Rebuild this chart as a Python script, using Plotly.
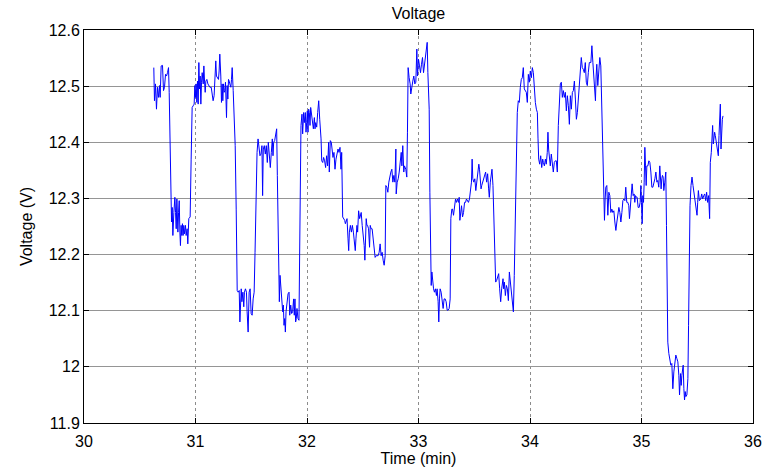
import plotly.graph_objects as go

# Battery voltage log, time in minutes, voltage in volts (six consecutive stretches)
t_part1 = [
    30.626, 30.632, 30.641, 30.650, 30.659, 30.668, 30.677, 30.683, 30.692, 30.704,
    30.713, 30.722, 30.731, 30.740, 30.749, 30.758, 30.764, 30.776, 30.785, 30.791,
    30.797, 30.806, 30.815, 30.821, 30.827, 30.833, 30.842, 30.848, 30.854, 30.860,
    30.865, 30.871, 30.877, 30.883, 30.889, 30.895, 30.901, 30.910, 30.916, 30.925,
    30.931, 30.940, 30.952, 30.961, 30.970, 30.979, 30.988, 30.994, 31.000, 31.006,
    31.012, 31.018, 31.024, 31.030, 31.036, 31.042, 31.048, 31.054, 31.060, 31.069,
    31.075, 31.081, 31.087, 31.093, 31.102, 31.111, 31.120, 31.129, 31.141, 31.149,
    31.158, 31.167, 31.176, 31.182, 31.188, 31.197, 31.206, 31.212, 31.218, 31.227,
    31.233, 31.239, 31.245, 31.251, 31.257, 31.263, 31.269, 31.278, 31.284, 31.290,
    31.296, 31.302, 31.308, 31.317, 31.323, 31.329, 31.338, 31.347, 31.356, 31.365,
    31.374, 31.383, 31.392, 31.398, 31.404, 31.410, 31.416, 31.425, 31.433, 31.439,
    31.448, 31.457, 31.463, 31.472, 31.481, 31.490, 31.499, 31.508, 31.517, 31.526,
]
v_part1 = [
    12.533, 12.474, 12.504, 12.459, 12.498, 12.480, 12.501, 12.480, 12.536, 12.537,
    12.492, 12.498, 12.521, 12.518, 12.524, 12.533, 12.489, 12.341, 12.258, 12.284,
    12.234, 12.275, 12.302, 12.275, 12.246, 12.299, 12.240, 12.275, 12.296, 12.240,
    12.216, 12.252, 12.234, 12.255, 12.234, 12.252, 12.237, 12.252, 12.234, 12.246,
    12.219, 12.264, 12.267, 12.370, 12.462, 12.465, 12.468, 12.501, 12.480, 12.504,
    12.471, 12.509, 12.468, 12.542, 12.495, 12.518, 12.468, 12.507, 12.524, 12.504,
    12.536, 12.509, 12.489, 12.509, 12.512, 12.504, 12.501, 12.498, 12.498, 12.489,
    12.474, 12.483, 12.524, 12.545, 12.518, 12.515, 12.512, 12.527, 12.557, 12.518,
    12.471, 12.504, 12.474, 12.504, 12.489, 12.492, 12.507, 12.444, 12.501, 12.477,
    12.512, 12.509, 12.504, 12.498, 12.512, 12.533, 12.492, 12.453, 12.394, 12.281,
    12.136, 12.133, 12.136, 12.080, 12.133, 12.139, 12.116, 12.133, 12.107, 12.133,
    12.139, 12.133, 12.098, 12.062, 12.133, 12.139, 12.095, 12.092, 12.121, 12.133,
]

t_part2 = [
    31.534, 31.543, 31.552, 31.561, 31.570, 31.578, 31.587, 31.596, 31.602, 31.608,
    31.617, 31.626, 31.635, 31.644, 31.653, 31.662, 31.671, 31.680, 31.689, 31.695,
    31.701, 31.710, 31.719, 31.728, 31.734, 31.743, 31.752, 31.758, 31.764, 31.770,
    31.776, 31.782, 31.788, 31.794, 31.800, 31.806, 31.812, 31.821, 31.830, 31.839,
    31.845, 31.854, 31.862, 31.871, 31.880, 31.886, 31.892, 31.898, 31.904, 31.910,
    31.919, 31.928, 31.934, 31.940, 31.946, 31.955, 31.961, 31.970, 31.976, 31.985,
    31.991, 31.997, 32.003, 32.009, 32.015, 32.021, 32.027, 32.033, 32.042, 32.051,
    32.057, 32.066, 32.072, 32.078, 32.087, 32.096, 32.105, 32.114, 32.120, 32.126,
    32.132, 32.141, 32.149, 32.158, 32.167, 32.176, 32.185, 32.194, 32.200, 32.209,
    32.218, 32.224, 32.233, 32.242, 32.251, 32.260, 32.269, 32.278, 32.287, 32.296,
    32.305, 32.311, 32.320, 32.329, 32.338, 32.344, 32.353, 32.359, 32.368, 32.374,
    32.380, 32.389, 32.398, 32.407, 32.416, 32.425, 32.433, 32.439, 32.448, 32.454,
    32.463, 32.472,
]
v_part2 = [
    12.204, 12.299, 12.382, 12.406, 12.388, 12.376, 12.379, 12.394, 12.305, 12.388,
    12.394, 12.379, 12.394, 12.364, 12.400, 12.370, 12.355, 12.382, 12.406, 12.376,
    12.400, 12.403, 12.412, 12.424, 12.341, 12.181, 12.116, 12.163, 12.145, 12.116,
    12.116, 12.098, 12.110, 12.074, 12.086, 12.062, 12.098, 12.116, 12.130, 12.133,
    12.092, 12.110, 12.095, 12.098, 12.121, 12.092, 12.121, 12.080, 12.086, 12.104,
    12.086, 12.083, 12.193, 12.382, 12.430, 12.450, 12.415, 12.453, 12.435, 12.453,
    12.418, 12.435, 12.456, 12.418, 12.459, 12.453, 12.430, 12.462, 12.447, 12.430,
    12.424, 12.444, 12.424, 12.435, 12.427, 12.453, 12.474, 12.441, 12.427, 12.406,
    12.367, 12.364, 12.373, 12.367, 12.355, 12.376, 12.358, 12.400, 12.347, 12.403,
    12.400, 12.382, 12.373, 12.382, 12.352, 12.370, 12.382, 12.388, 12.382, 12.391,
    12.352, 12.382, 12.267, 12.264, 12.261, 12.255, 12.261, 12.264, 12.228, 12.207,
    12.240, 12.252, 12.240, 12.252, 12.240, 12.222, 12.207, 12.228, 12.252, 12.240,
    12.278, 12.264,
]

t_part3 = [
    32.486, 32.495, 32.504, 32.513, 32.519, 32.525, 32.531, 32.537, 32.543, 32.552,
    32.561, 32.567, 32.575, 32.584, 32.593, 32.602, 32.611, 32.620, 32.629, 32.638,
    32.647, 32.656, 32.665, 32.674, 32.683, 32.692, 32.701, 32.707, 32.716, 32.725,
    32.734, 32.743, 32.752, 32.761, 32.770, 32.779, 32.788, 32.797, 32.800, 32.809,
    32.818, 32.827, 32.836, 32.845, 32.851, 32.859, 32.868, 32.874, 32.886, 32.895,
    32.901, 32.907, 32.916, 32.925, 32.931, 32.940, 32.949, 32.958, 32.967, 32.976,
    32.985, 32.991, 33.000, 33.009, 33.018, 33.027, 33.036, 33.045, 33.054, 33.063,
    33.072, 33.078, 33.084, 33.090, 33.096, 33.102, 33.108, 33.114, 33.120, 33.126,
    33.135, 33.143, 33.152, 33.161, 33.167, 33.176, 33.182, 33.188, 33.194, 33.203,
    33.212, 33.221, 33.230, 33.239, 33.248, 33.257, 33.266, 33.275, 33.284, 33.290,
    33.299, 33.305, 33.314, 33.323, 33.332, 33.341, 33.350, 33.359, 33.365, 33.371,
    33.377, 33.386, 33.395, 33.404, 33.413, 33.422, 33.430, 33.439, 33.448, 33.457,
    33.466, 33.475, 33.481, 33.487, 33.496, 33.505, 33.514, 33.523, 33.532, 33.541,
    33.547,
]
v_part3 = [
    12.275, 12.252, 12.234, 12.216, 12.190, 12.240, 12.264, 12.252, 12.252, 12.246,
    12.213, 12.252, 12.246, 12.246, 12.228, 12.204, 12.195, 12.198, 12.198, 12.198,
    12.204, 12.219, 12.198, 12.204, 12.190, 12.181, 12.198, 12.323, 12.320, 12.311,
    12.329, 12.341, 12.347, 12.352, 12.329, 12.341, 12.329, 12.388, 12.308, 12.329,
    12.335, 12.347, 12.370, 12.382, 12.358, 12.394, 12.347, 12.358, 12.352, 12.338,
    12.418, 12.533, 12.515, 12.504, 12.486, 12.501, 12.509, 12.518, 12.504, 12.507,
    12.566, 12.518, 12.548, 12.536, 12.524, 12.539, 12.551, 12.524, 12.539, 12.548,
    12.572, 12.578, 12.524, 12.489, 12.459, 12.311, 12.193, 12.145, 12.169, 12.151,
    12.139, 12.133, 12.139, 12.127, 12.139, 12.116, 12.080, 12.121, 12.139, 12.133,
    12.110, 12.104, 12.121, 12.121, 12.116, 12.101, 12.101, 12.104, 12.121, 12.264,
    12.281, 12.281, 12.270, 12.284, 12.299, 12.293, 12.299, 12.293, 12.302, 12.261,
    12.278, 12.287, 12.267, 12.275, 12.293, 12.293, 12.299, 12.296, 12.293, 12.299,
    12.323, 12.329, 12.370, 12.335, 12.329, 12.335, 12.314, 12.329, 12.335, 12.361,
    12.352,
]

t_part4 = [
    33.552, 33.561, 33.567, 33.575, 33.584, 33.593, 33.602, 33.611, 33.620, 33.629,
    33.635, 33.644, 33.653, 33.659, 33.668, 33.674, 33.683, 33.692, 33.701, 33.710,
    33.719, 33.728, 33.737, 33.746, 33.752, 33.758, 33.764, 33.770, 33.779, 33.788,
    33.797, 33.806, 33.815, 33.824, 33.833, 33.842, 33.851, 33.859, 33.868, 33.877,
    33.886, 33.895, 33.904, 33.913, 33.922, 33.931, 33.940, 33.949, 33.958, 33.967,
    33.976, 33.985, 33.994, 34.003, 34.012, 34.021, 34.030, 34.039, 34.048, 34.057,
    34.066, 34.072, 34.078, 34.087, 34.096, 34.105, 34.114, 34.120, 34.129, 34.138,
    34.146, 34.155, 34.161, 34.167, 34.173, 34.182, 34.191, 34.200, 34.209, 34.218,
    34.227, 34.236, 34.245, 34.254, 34.263, 34.272, 34.281, 34.290, 34.299, 34.308,
    34.317, 34.326, 34.335, 34.344, 34.353, 34.362, 34.371, 34.380, 34.389, 34.398,
    34.407, 34.416, 34.425, 34.433, 34.442, 34.451, 34.460, 34.469, 34.478, 34.487,
    34.496, 34.505, 34.514, 34.523, 34.532,
]
v_part4 = [
    12.335, 12.317, 12.323, 12.329, 12.335, 12.344, 12.347, 12.329, 12.344, 12.317,
    12.302, 12.329, 12.347, 12.352, 12.323, 12.264, 12.193, 12.151, 12.154, 12.160,
    12.166, 12.139, 12.116, 12.139, 12.157, 12.157, 12.139, 12.151, 12.127, 12.145,
    12.139, 12.118, 12.169, 12.151, 12.139, 12.116, 12.098, 12.163, 12.281, 12.382,
    12.453, 12.474, 12.471, 12.498, 12.512, 12.515, 12.533, 12.495, 12.492, 12.489,
    12.471, 12.521, 12.507, 12.527, 12.515, 12.533, 12.524, 12.495, 12.471, 12.459,
    12.453, 12.406, 12.370, 12.361, 12.376, 12.355, 12.370, 12.364, 12.358, 12.370,
    12.361, 12.382, 12.418, 12.388, 12.367, 12.358, 12.379, 12.364, 12.347, 12.364,
    12.367, 12.367, 12.347, 12.430, 12.480, 12.504, 12.507, 12.480, 12.492, 12.480,
    12.489, 12.456, 12.483, 12.465, 12.432, 12.483, 12.459, 12.489, 12.492, 12.509,
    12.477, 12.441, 12.453, 12.474, 12.507, 12.530, 12.551, 12.533, 12.530, 12.524,
    12.542, 12.507, 12.501, 12.524, 12.542,
]

t_part5 = [
    34.546, 34.555, 34.564, 34.573, 34.581, 34.587, 34.593, 34.599, 34.608, 34.617,
    34.626, 34.635, 34.644, 34.653, 34.662, 34.668, 34.674, 34.680, 34.689, 34.698,
    34.707, 34.716, 34.725, 34.734, 34.743, 34.752, 34.761, 34.770, 34.779, 34.788,
    34.797, 34.806, 34.815, 34.824, 34.833, 34.842, 34.851, 34.859, 34.868, 34.877,
    34.886, 34.892, 34.901, 34.910, 34.916, 34.925, 34.934, 34.940, 34.946, 34.955,
    34.961, 34.970, 34.979, 34.988, 34.994, 35.000, 35.006, 35.012, 35.018, 35.024,
    35.030, 35.036, 35.042, 35.048, 35.057, 35.066, 35.075, 35.084, 35.093, 35.102,
    35.111, 35.120, 35.129, 35.138, 35.146, 35.155, 35.164, 35.170, 35.176, 35.182,
    35.188, 35.194, 35.200, 35.209, 35.218, 35.224, 35.230, 35.236, 35.245, 35.254,
    35.263, 35.272, 35.281, 35.290, 35.299, 35.308, 35.317, 35.326, 35.335, 35.341,
    35.350, 35.356, 35.362, 35.368, 35.374, 35.380, 35.386, 35.392, 35.398, 35.407,
    35.416, 35.422, 35.428,
]
v_part5 = [
    12.542, 12.572, 12.542, 12.518, 12.492, 12.474, 12.518, 12.539, 12.501, 12.530,
    12.551, 12.536, 12.465, 12.388, 12.311, 12.261, 12.299, 12.320, 12.323, 12.270,
    12.311, 12.305, 12.275, 12.281, 12.275, 12.278, 12.258, 12.243, 12.258, 12.270,
    12.284, 12.275, 12.258, 12.275, 12.296, 12.299, 12.296, 12.320, 12.293, 12.293,
    12.287, 12.264, 12.293, 12.323, 12.326, 12.305, 12.308, 12.293, 12.305, 12.302,
    12.302, 12.284, 12.284, 12.293, 12.323, 12.293, 12.255, 12.305, 12.293, 12.329,
    12.391, 12.358, 12.323, 12.358, 12.358, 12.367, 12.364, 12.347, 12.320, 12.320,
    12.326, 12.335, 12.347, 12.329, 12.332, 12.320, 12.358, 12.341, 12.317, 12.335,
    12.341, 12.338, 12.314, 12.329, 12.347, 12.252, 12.133, 12.044, 12.024, 12.009,
    12.003, 12.006, 11.961, 11.991, 12.003, 12.021, 12.015, 12.009, 11.985, 11.950,
    11.988, 11.967, 11.985, 11.997, 12.003, 11.961, 11.941, 11.956, 11.947, 11.950,
    11.979, 12.074, 12.193,
]

t_part6 = [
    35.435, 35.444, 35.453, 35.462, 35.471, 35.480, 35.489, 35.498, 35.504, 35.510,
    35.519, 35.525, 35.531, 35.540, 35.549, 35.558, 35.567, 35.576, 35.584, 35.593,
    35.602, 35.611, 35.617, 35.626, 35.632, 35.638, 35.644, 35.650, 35.656, 35.662,
    35.671, 35.680, 35.689, 35.695, 35.701, 35.707, 35.713, 35.719, 35.725, 35.731,
]
v_part6 = [
    12.287, 12.323, 12.338, 12.323, 12.311, 12.299, 12.287, 12.270, 12.293, 12.314,
    12.296, 12.299, 12.299, 12.308, 12.299, 12.305, 12.308, 12.296, 12.311, 12.293,
    12.305, 12.264, 12.364, 12.382, 12.412, 12.430, 12.397, 12.406, 12.418, 12.412,
    12.400, 12.388, 12.376, 12.412, 12.435, 12.468, 12.388, 12.430, 12.441, 12.447,
]

x_ticks = [30, 31, 32, 33, 34, 35, 36]
y_ticks = [11.9, 12.0, 12.1, 12.2, 12.3, 12.4, 12.5, 12.6]
y_tick_labels = ["11.9", "12", "12.1", "12.2", "12.3", "12.4", "12.5", "12.6"]

time_min = []
voltage_v = []
for tp, vp in [(t_part1, v_part1), (t_part2, v_part2), (t_part3, v_part3),
               (t_part4, v_part4), (t_part5, v_part5), (t_part6, v_part6)]:
    if len(tp) != len(vp):
        raise ValueError(f"length mismatch: {len(tp)} vs {len(vp)}")
    time_min.extend(tp)
    voltage_v.extend(vp)

FONT = "Liberation Sans, Arial, Helvetica, sans-serif"
FS = 16

fig = go.Figure()
fig.add_trace(go.Scatter(
    x=time_min, y=voltage_v, mode="lines",
    line=dict(color="#0000ff", width=1),
    hoverinfo="x+y",
))

fig.update_layout(
    width=775, height=469,
    margin=dict(l=84, r=22, t=30, b=46),
    paper_bgcolor="white", plot_bgcolor="white",
    font=dict(family=FONT, size=FS, color="black"),
    showlegend=False,
    title=dict(text="Voltage", x=0.5, xref="paper", xanchor="center",
               y=1 - 13.5 / 469, yref="container", yanchor="middle",
               font=dict(family=FONT, size=FS, color="black")),
)

axis_common = dict(
    showline=True, linecolor="black", linewidth=1, mirror="ticks",
    ticks="inside", ticklen=5, tickcolor="black", tickwidth=1,
    showgrid=True, gridwidth=1, zeroline=False, automargin=False,
    tickfont=dict(family=FONT, size=FS, color="black"),
)

fig.update_xaxes(
    range=[30, 36], tickvals=x_ticks,
    gridcolor="#8c8c8c", griddash="dot",
    ticklabelstandoff=4,
    title=dict(text="Time (min)", standoff=3, font=dict(family=FONT, size=FS)),
    **axis_common,
)
fig.update_yaxes(
    range=[11.9, 12.6], tickvals=y_ticks, ticktext=y_tick_labels,
    gridcolor="#959595",
    title=dict(text="Voltage (V)", standoff=12, font=dict(family=FONT, size=FS)),
    **axis_common,
)

fig.write_html("out.html")
